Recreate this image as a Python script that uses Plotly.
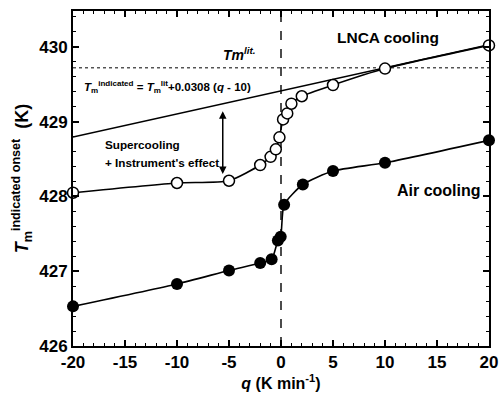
import plotly.graph_objects as go

# LNCA cooling (open circles)
q_lnca = [-20, -10, -5, -2, -1, -0.5, -0.15, 0.2, 0.6, 1.0, 2.0, 5, 10, 20]
t_lnca = [428.05, 428.18, 428.21, 428.42, 428.53, 428.63, 428.79, 429.03, 429.11, 429.24, 429.34, 429.49, 429.71, 430.02]

# Air cooling (filled circles)
q_air = [-20, -10, -5, -2, -0.9, -0.3, -0.03, 0.3, 2.1, 5, 10, 20]
t_air = [426.53, 426.83, 427.01, 427.11, 427.16, 427.41, 427.46, 427.89, 428.16, 428.34, 428.45, 428.75]

# Axis ticks
x_ticks = [-20, -15, -10, -5, 0, 5, 10, 15, 20]
x_labels = ["-20", "-15", "-10", "-5", "0", "5", "10", "15", "20"]
y_ticks = [426, 427, 428, 429, 430]
y_labels = ["426", "427", "428", "429", "430"]

# Literature melting point and linear correction
tm_lit = 429.72
slope = 0.0308
q_fit = [-20, 20]
t_fit = [tm_lit + slope * (q - 10) for q in q_fit]

font = "Liberation Sans, Arial, sans-serif"

fig = go.Figure()

fig.add_trace(go.Scatter(x=q_fit, y=t_fit, mode="lines",
                         line=dict(color="black", width=1.5), showlegend=False))
fig.add_trace(go.Scatter(x=[-20, 20], y=[tm_lit, tm_lit], mode="lines",
                         line=dict(color="black", width=1, dash="dot"), showlegend=False))
fig.add_trace(go.Scatter(x=[0, 0], y=[426, 430.48], mode="lines",
                         line=dict(color="black", width=1.4, dash="dash"), showlegend=False))

fig.add_trace(go.Scatter(x=q_lnca, y=t_lnca, mode="lines+markers",
                         line=dict(color="black", width=1.6, shape="spline", smoothing=0.6),
                         marker=dict(symbol="circle", size=11, color="white",
                                     line=dict(color="black", width=1.5)),
                         cliponaxis=False, showlegend=False))
fig.add_trace(go.Scatter(x=q_air, y=t_air, mode="lines+markers",
                         line=dict(color="black", width=1.6, shape="spline", smoothing=0.6),
                         marker=dict(symbol="circle", size=12, color="black"),
                         cliponaxis=False, showlegend=False))

# Double-headed arrow between the corrected line and the LNCA curve
fig.add_annotation(x=-5.6, y=429.14, ax=-5.6, ay=428.28, xref="x", yref="y",
                   axref="x", ayref="y", text="", showarrow=True,
                   arrowhead=2, arrowside="end+start", arrowsize=1, arrowwidth=1.5,
                   arrowcolor="black")

ann = [
    dict(x=-5.8, y=429.91, text="<i>Tm</i><sup><i>lit.</i></sup>", size=14, xanchor="left"),
    dict(x=5.2, y=430.12, text="LNCA cooling", size=15.5, xanchor="left"),
    dict(x=11.0, y=428.08, text="Air cooling", size=16, xanchor="left"),
    dict(x=-19.1, y=429.47,
         text="<i>T</i><sub>m</sub><sup>indicated</sup> = <i>T</i><sub>m</sub><sup>lit</sup>+0.0308 (<i>q</i> - 10)",
         size=11.5, xanchor="left"),
    dict(x=-17.1, y=428.69, text="Supercooling", size=11.7, xanchor="left"),
    dict(x=-17.1, y=428.46, text="+ Instrument's effect", size=11.7, xanchor="left"),
]
for a in ann:
    fig.add_annotation(x=a["x"], y=a["y"], text="<b>" + a["text"] + "</b>", showarrow=False,
                       xanchor=a["xanchor"], yanchor="middle",
                       font=dict(family=font, size=a["size"], color="black"))

axis_common = dict(showline=True, linewidth=2, linecolor="black", mirror="ticks",
                   ticks="inside", ticklen=6, tickwidth=1.5, tickcolor="black",
                   showgrid=False, zeroline=False, automargin=False,
                   tickfont=dict(family=font, size=17, color="black", weight="bold"))

fig.update_xaxes(range=[-20, 20], tickmode="array", tickvals=x_ticks, ticktext=x_labels,
                 minor=dict(dtick=1, tick0=-20, ticks="inside", ticklen=3,
                            tickcolor="black", tickwidth=1.2),
                 title=dict(text="<b><i>q</i> (K min<sup>-1</sup>)</b>", standoff=6,
                            font=dict(family=font, size=16, color="black")),
                 **axis_common)
fig.update_yaxes(range=[426, 430.48], tickmode="array", tickvals=y_ticks, ticktext=y_labels,
                 minor=dict(dtick=0.2, tick0=426, ticks="inside", ticklen=3,
                            tickcolor="black", tickwidth=1.2),
                 title=dict(text="<b><i>T</i><sub>m</sub><sup>indicated onset</sup>  (K)</b>", standoff=6,
                            font=dict(family=font, size=18, color="black")),
                 **axis_common)

fig.update_layout(width=500, height=393, margin=dict(l=73, r=11, t=11, b=47),
                  paper_bgcolor="white", plot_bgcolor="white")

fig.write_html("out.html")
